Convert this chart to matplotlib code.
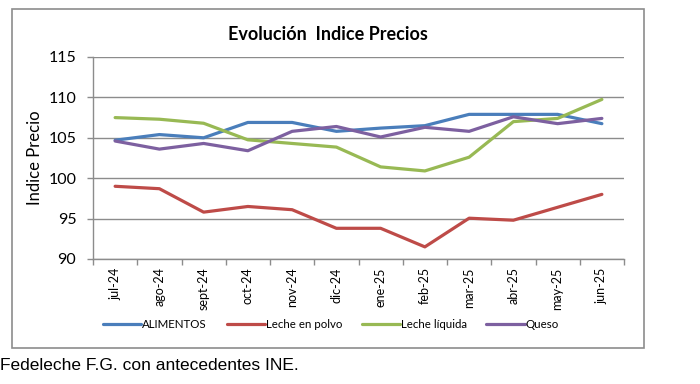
import matplotlib
matplotlib.use("Agg")
import matplotlib.pyplot as plt
from matplotlib.patches import Rectangle
import numpy as np

months = ["jul-24", "ago-24", "sept-24", "oct-24", "nov-24", "dic-24",
          "ene-25", "feb-25", "mar-25", "abr-25", "may-25", "jun-25"]
alimentos = [104.7, 105.4, 105.0, 106.9, 106.9, 105.8, 106.2, 106.5, 107.9, 107.9, 107.9, 106.75]
leche_polvo = [99.0, 98.7, 95.8, 96.5, 96.1, 93.8, 93.8, 91.5, 95.05, 94.8, 96.4, 98.0]
leche_liquida = [107.5, 107.3, 106.8, 104.75, 104.3, 103.85, 101.4, 100.9, 102.6, 107.0, 107.4, 109.75]
queso = [104.6, 103.6, 104.3, 103.4, 105.8, 106.4, 105.1, 106.3, 105.8, 107.6, 106.75, 107.4]
series_names = ["ALIMENTOS", "Leche en polvo", "Leche líquida", "Queso"]
y_ticks = [90, 95, 100, 105, 110, 115]

colors = ["#4a7ebb", "#be4b48", "#98b954", "#7d60a0"]
font = ["Lato", "DejaVu Sans"]

fig = plt.figure(figsize=(7.0, 3.84), dpi=100)
fig.patch.set_facecolor("white")

# outer chart frame
fig.patches.append(Rectangle((12/700, 1-348/384), 632/700, 339/384,
                             transform=fig.transFigure, fill=False,
                             edgecolor="#8c8c8c", linewidth=1.2))

ax = fig.add_axes([93/700, 1-259/384, 531/700, 202/384])
x = np.arange(len(months))
for vals, c, name in zip([alimentos, leche_polvo, leche_liquida, queso], colors, series_names):
    ax.plot(x, vals, color=c, linewidth=2.3, label=name, solid_capstyle="round")

ax.set_xlim(-0.5, len(months) - 0.5)
ax.set_ylim(90, 115)
ax.set_yticks(y_ticks)
ax.set_yticklabels([str(v) for v in y_ticks], fontsize=11.5, family=font)
ax.yaxis.grid(True, color="#8c8c8c", linewidth=1.0)
ax.set_axisbelow(True)
ax.set_xticks(x)
ax.set_xticklabels(months, rotation=90, fontsize=9, family=font)
ax.tick_params(axis="x", which="major", length=0, pad=6)
ax.set_xticks(np.arange(-0.5, len(months), 1.0), minor=True)
ax.tick_params(axis="x", which="minor", length=4, color="#8c8c8c", width=1)
ax.tick_params(axis="y", length=4, color="#8c8c8c", width=1, pad=8)
for s in ["top", "right"]:
    ax.spines[s].set_visible(False)
ax.spines["left"].set_color("#8c8c8c")
ax.spines["bottom"].set_color("#8c8c8c")
ax.spines["left"].set_linewidth(1.0)
ax.spines["bottom"].set_linewidth(1.0)

ax.set_ylabel("Indice Precio", fontsize=12, family=font, labelpad=4)

fig.text(328/700, 1-35/384, "Evolución  Indice Precios", ha="center", va="center",
         fontsize=13, fontweight="bold", family=font)

leg = fig.legend(loc="center", bbox_to_anchor=(331/700, 1-325/384), ncol=4,
                 frameon=False, prop={"family": font, "size": 8.3},
                 handlelength=3.3, handletextpad=0.1, columnspacing=1.7)

fig.text(0.0, 1-365/384, "Fedeleche F.G. con antecedentes INE.", ha="left", va="center",
         fontsize=12.5, family=["Liberation Sans", "DejaVu Sans"])

fig.savefig("out.png", dpi=100, facecolor="white")
